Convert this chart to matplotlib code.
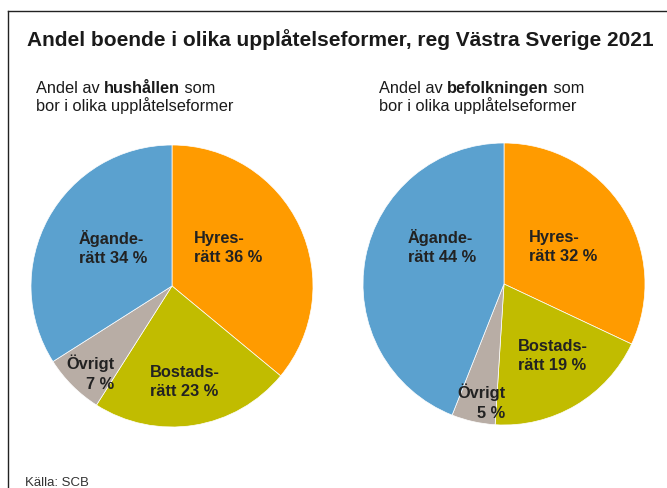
import matplotlib
matplotlib.use("Agg")
import matplotlib.pyplot as plt
from matplotlib.lines import Line2D

plt.rcParams['font.family'] = ['Liberation Sans', 'DejaVu Sans']

# data
kategorier = ['Hyresrätt', 'Bostadsrätt', 'Övrigt', 'Äganderätt']
hushall = [36, 23, 7, 34]
befolkning = [32, 19, 5, 44]
etiketter_hushall = ['Hyres-\nrätt 36 %', 'Bostads-\nrätt 23 %', 'Övrigt\n7 %', 'Ägande-\nrätt 34 %']
etiketter_befolkning = ['Hyres-\nrätt 32 %', 'Bostads-\nrätt 19 %', 'Övrigt\n5 %', 'Ägande-\nrätt 44 %']
farger = ['#FF9B00', '#C1BC00', '#B8ADA5', '#5BA1CF']

W, H = 667, 489
fig = plt.figure(figsize=(W / 100, H / 100), dpi=100)

# ram (överkant + vänsterkant)
fig.add_artist(Line2D([8 / W, 1], [1 - 12 / H, 1 - 12 / H], color='#222222', lw=1.0))
fig.add_artist(Line2D([8 / W, 8 / W], [1 - 12 / H, 0], color='#222222', lw=1.0))

fig.text(27 / W, 1 - 40 / H, 'Andel boende i olika upplåtelseformer, reg Västra Sverige 2021',
         fontsize=15, fontweight='bold', color='#1a1a1a', va='center', ha='left')


def underrubrik(x, fet):
    y = 1 - 93 / H
    fs = 11.8
    t = fig.text(x / W, y, 'Andel av ', fontsize=fs, color='#1a1a1a', va='baseline')
    fig.canvas.draw()
    bb = t.get_window_extent()
    t2 = fig.text(bb.x1 / W, y, fet, fontsize=fs, fontweight='bold', color='#1a1a1a', va='baseline')
    fig.canvas.draw()
    bb2 = t2.get_window_extent()
    fig.text(bb2.x1 / W, y, ' som', fontsize=fs, color='#1a1a1a', va='baseline')
    fig.text(x / W, 1 - 111 / H, 'bor i olika upplåtelseformer', fontsize=fs, color='#1a1a1a', va='baseline')


underrubrik(36, 'hushållen')
underrubrik(379, 'befolkningen')


def paj(cx, cy, r, varden, etiketter, pos):
    ax = fig.add_axes([(cx - r) / W, (H - cy - r) / H, 2 * r / W, 2 * r / H])
    ax.pie(varden, colors=farger, startangle=90, counterclock=False, radius=1,
           wedgeprops=dict(edgecolor='white', linewidth=0.5))
    ax.set_xlim(-1, 1)
    ax.set_ylim(-1, 1)
    ax.set_aspect('equal')
    ax.axis('off')
    for lab, (px, py, ha) in zip(etiketter, pos):
        ax.text((px - cx) / r, (cy - py) / r, lab, ha=ha, va='center', multialignment=ha,
                fontsize=11.8, fontweight='bold', color='#222222', linespacing=1.38)


# etikettpositioner i pixlar (x, y, justering)
pos_v = [(194, 248, 'left'), (150, 382, 'left'), (114, 373, 'right'), (79, 248, 'left')]
pos_h = [(529, 247, 'left'), (518, 356, 'left'), (505, 402, 'right'), (408, 247, 'left')]

paj(172, 287, 141, hushall, etiketter_hushall, pos_v)
paj(504, 285, 141, befolkning, etiketter_befolkning, pos_h)

fig.text(25 / W, 1 - 483 / H, 'Källa: SCB', fontsize=9.5, color='#333333', va='center')

fig.savefig('out.png', dpi=100)
